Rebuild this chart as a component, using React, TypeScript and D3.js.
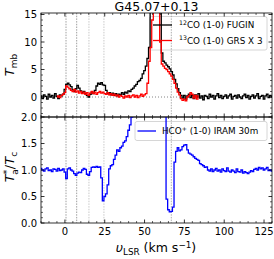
import React from "react";
import * as d3 from "d3";

const V0 = -15;
// 12CO (1-0) FUGIN, v = -15 .. 130 km/s, 1 km/s steps
const co12: number[] = [
  0.2, -0.3, 0.4, 0.1, -0.4, 0.5, 0.0, 0.3, -0.2, 0.6, 0.1, -0.3, 0.4, 0.2, 0.5,
  1.4, 2.3, 2.5, 2.2, 1.9, 1.3, 1.0, 1.5, 2.1, 1.6,
  1.1, 0.8, 1.0, 0.6, 0.3, 0.0, 0.5, 0.9, 0.6, 1.2,
  2.0, 2.5, 2.3, 2.6, 2.2, 2.1, 1.2, 0.6, 0.8, 0.4,
  0.7, 0.3, 0.6, 0.2, 0.5, 0.4, 0.8, 0.5, 0.9, 0.7,
  1.1, 1.0, 1.4, 1.6, 2.0, 2.3, 2.8, 3.0, 3.4, 4.2,
  4.8, 5.6, 7.0, 9.0, 16, 20, 22, 24, 22, 20,
  17, 8.0, 6.5, 6.2, 5.8, 5.5, 5.1, 4.6, 4.0, 3.2,
  2.4, 1.5, 0.8, 0.3,
  -0.2, 0.3, -0.4, 0.2, 0.5, -0.1, 0.3, -0.3, 0.4, 0.0, 0.6, -0.2, 0.2, -0.5, 0.3, 0.1,
  -0.3, 0.5, 0.0, 0.3, -0.4, 0.2, 0.6, -0.1, 0.3, -0.3, 0.1, 0.4, -0.2, 0.2, 0.5, -0.4,
  0.1, 0.3, -0.2, 0.4, 0.0, -0.3, 0.2, 0.5, -0.1, 0.3, -0.4, 0.1, 0.4, -0.2, 0.2, 0.6,
  -0.3, 0.1, 0.3, -0.4, 0.2, 0.5, -0.1, 0.3, 0.0,
];
// 13CO (1-0) GRS x 3, v = -5 .. 84 km/s
const CO13_V0 = -5;
const co13: number[] = [
  0.0, 0.2, -0.1, 0.3, 0.5,
  0.8, 2.0, 1.8, 1.5, 1.2, 1.0, 1.4, 0.9, 1.1, 0.7,
  1.0, 0.6, 0.9, 0.5, 0.8, 0.3, 0.7, 1.0, 0.6, 0.9,
  0.5, 0.8, 1.0, 0.7, 0.9, 0.6, 0.5, 0.8, 0.4, 0.6,
  0.3, 0.5, 0.2, 0.4, 0.0, 0.3, 0.1, -0.2, 0.2, 0.0,
  0.3, -0.1, 0.2, 0.4, 0.0, 0.3, -0.1, 0.2, 0.5, 0.1,
  0.4, 0.6, 2.5, 6.5, 9.0, 14, 20, 25, 22, 18,
  10, 6.0, 5.6, 5.2, 5.0, 4.6, 4.2, 3.8, 3.2, 2.5,
  1.6, 0.9, 0.4, -0.3, -0.6, -0.4, -0.7, 0.0, 0.3, 0.8,
  0.5, -0.2, 0.3, -0.4, 0.2,
];
// HCO+ (1-0) IRAM 30m, Ta*/Tc, v = -15 .. 130 km/s
const hco: number[] = [
  1.03, 1.0, 0.98, 1.02, 1.04, 0.99, 1.0, 0.97, 1.02, 1.01, 0.98, 1.03, 0.99, 1.0, 1.02,
  0.96, 0.84, 1.02, 1.04, 1.0, 0.98, 0.93, 0.9, 0.94, 0.96,
  0.95, 1.0, 1.03, 1.01, 0.92, 0.9, 0.97, 1.05, 1.06, 1.05,
  1.07, 1.05, 1.06, 0.85, 0.42, 0.5, 0.55, 0.72, 1.02, 1.08,
  1.1, 1.2, 1.28, 1.38, 1.35, 1.42, 1.45, 1.52, 1.55, 1.63,
  1.75, 1.85, 2.0, 2.3, 2.4, 2.8, 3.2, 3.5, 3.8, 4.0,
  4.2, 4.3, 4.4, 4.5, 4.4, 4.3, 4.1, 3.9, 3.6, 3.3,
  3.0, 2.7, 2.4, 2.2, 0.45, 0.25, 0.21, 0.22, 0.3, 1.15,
  1.35, 1.42, 1.36, 1.38, 1.44, 1.47, 1.48, 1.38, 1.32, 1.3,
  1.28, 1.25, 1.22, 1.2, 1.18, 1.12, 1.1, 1.08, 1.05, 1.06,
  1.0, 0.98, 1.02, 0.97, 1.0, 1.03, 0.98, 1.0, 0.96, 1.02,
  0.99, 0.97, 1.04, 0.98, 0.96, 1.0, 0.98, 0.95, 1.02, 0.97,
  0.96, 1.0, 0.94, 0.97, 0.95, 0.93, 0.96, 0.99, 0.97, 1.01,
  1.03, 1.0, 1.05, 1.02, 1.04, 1.0, 1.02, 1.05, 0.99, 1.0, 0.98,
];
const markVels = [0.7, 7.4, 15.1, 24.5, 66.8];
const markColors = ["#888", "#888", "#bbb", "#bbb", "#999"];
const xMajor = [0, 25, 50, 75, 100, 125];
const topMajor = [0, 5, 10, 15];
const botMajor = [0, 0.5, 1.0, 1.5, 2.0];

const FONT = "DejaVu Sans, sans-serif";
const L = 41, R = 272;
const T0 = 13, MID = 117, B1 = 223;

export default function App() {
  const x = d3.scaleLinear().domain([-15, 130]).range([L, R]);
  const yT = d3.scaleLinear().domain([0, 15]).range([97, 14.5]);
  const yB = d3.scaleLinear().domain([0, 2]).range([B1, MID]);

  const pts = (arr: number[], v0: number) => arr.map((v, i) => [v0 + i, v] as [number, number]);
  const lineT = d3.line<[number, number]>().x(d => x(d[0])).y(d => yT(d[1])).curve(d3.curveStep);
  const lineB = d3.line<[number, number]>().x(d => x(d[0])).y(d => yB(d[1])).curve(d3.curveStep);

  const xMinor = d3.range(-15, 131, 5).filter(v => !xMajor.includes(v));
  const topMinor = d3.range(-3, 16, 1).filter(v => !topMajor.includes(v));
  const botMinor = d3.range(0, 2.01, 0.1).map(v => +v.toFixed(1)).filter(v => !botMajor.includes(v));

  const axisTicks = (y0: number, y1: number, ys: (v: number) => number, yMaj: number[], yMin: number[], key: string) => {
    const els: JSX.Element[] = [];
    const inRange = (py: number) => py >= y0 - 0.1 && py <= y1 + 0.1;
    xMajor.forEach(v => {
      els.push(<line key={key + "xb" + v} x1={x(v)} x2={x(v)} y1={y1} y2={y1 - 3.5} stroke="#000" strokeWidth={0.8} />);
      els.push(<line key={key + "xt" + v} x1={x(v)} x2={x(v)} y1={y0} y2={y0 + 3.5} stroke="#000" strokeWidth={0.8} />);
    });
    xMinor.forEach(v => {
      els.push(<line key={key + "xbm" + v} x1={x(v)} x2={x(v)} y1={y1} y2={y1 - 2} stroke="#000" strokeWidth={0.6} />);
      els.push(<line key={key + "xtm" + v} x1={x(v)} x2={x(v)} y1={y0} y2={y0 + 2} stroke="#000" strokeWidth={0.6} />);
    });
    yMaj.forEach(v => {
      const py = ys(v);
      if (!inRange(py)) return;
      els.push(<line key={key + "yl" + v} x1={L} x2={L + 3.5} y1={py} y2={py} stroke="#000" strokeWidth={0.8} />);
      els.push(<line key={key + "yr" + v} x1={R} x2={R - 3.5} y1={py} y2={py} stroke="#000" strokeWidth={0.8} />);
    });
    yMin.forEach(v => {
      const py = ys(v);
      if (!inRange(py)) return;
      els.push(<line key={key + "ylm" + v} x1={L} x2={L + 2} y1={py} y2={py} stroke="#000" strokeWidth={0.6} />);
      els.push(<line key={key + "yrm" + v} x1={R} x2={R - 2} y1={py} y2={py} stroke="#000" strokeWidth={0.6} />);
    });
    return els;
  };

  return (
    <svg width={274} height={259} style={{ position: "absolute", left: 0, top: 0, background: "#fff" }} fontFamily={FONT}>
      <defs>
        <clipPath id="clipT"><rect x={L} y={T0} width={R - L} height={MID - T0} /></clipPath>
        <clipPath id="clipB"><rect x={L} y={MID} width={R - L} height={B1 - MID} /></clipPath>
      </defs>
      {/* title */}
      <text x={(L + R) / 2} y={11} fontSize={12.5} textAnchor="middle">G45.07+0.13</text>

      {/* legend frames (behind the data) */}
      <rect x={149.5} y={16.5} width={117.5} height={33.5} rx={2} fill="#fff" fillOpacity={0.8} stroke="#ccc" strokeWidth={0.8} />
      <rect x={135} y={121.5} width={132} height={19} rx={2} fill="#fff" fillOpacity={0.8} stroke="#ccc" strokeWidth={0.8} />

      {/* top panel */}
      <g clipPath="url(#clipT)">
        {markVels.map((v, i) => (
          <line key={"mt" + i} x1={x(v)} x2={x(v)} y1={T0} y2={MID} stroke={markColors[i]} strokeWidth={0.8} strokeDasharray="1.5,1.2" />
        ))}
        <line x1={L} x2={R} y1={yT(0)} y2={yT(0)} stroke="#777" strokeWidth={0.9} strokeDasharray="1,2" />
        <path d={lineT(pts(co12, V0)) || ""} fill="none" stroke="#000" strokeWidth={1.3} />
        <path d={lineT(pts(co13, CO13_V0)) || ""} fill="none" stroke="#f00" strokeWidth={1.3} />
      </g>
      {axisTicks(T0, MID, yT, topMajor, topMinor, "t")}
      <rect x={L} y={T0} width={R - L} height={MID - T0} fill="none" stroke="#000" strokeWidth={0.8} />
      {topMajor.map(v => (
        <text key={"tyl" + v} x={37} y={yT(v)} fontSize={10} textAnchor="end" dominantBaseline="central">{v}</text>
      ))}

      {/* top legend entries */}
      <line x1={153} x2={172} y1={25} y2={25} stroke="#000" strokeWidth={1.3} />
      <line x1={153} x2={172} y1={40.5} y2={40.5} stroke="#f00" strokeWidth={1.3} />
      <text x={179} y={28.3} fontSize={8.8}>
        <tspan fontSize={6.2} dy={-3.5}>12</tspan>
        <tspan dy={3.5}>CO (1-0) FUGIN</tspan>
      </text>
      <text x={179} y={43.8} fontSize={8.8}>
        <tspan fontSize={6.2} dy={-3.5}>13</tspan>
        <tspan dy={3.5}>CO (1-0) GRS X 3</tspan>
      </text>

      {/* bottom panel */}
      <g clipPath="url(#clipB)">
        {markVels.map((v, i) => (
          <line key={"mb" + i} x1={x(v)} x2={x(v)} y1={MID} y2={B1} stroke={markColors[i]} strokeWidth={0.8} strokeDasharray="1.5,1.2" />
        ))}
        <path d={lineB(pts(hco, V0)) || ""} fill="none" stroke="#00f" strokeWidth={1.3} />
      </g>
      {axisTicks(MID, B1, yB, botMajor, botMinor, "b")}
      <rect x={L} y={MID} width={R - L} height={B1 - MID} fill="none" stroke="#000" strokeWidth={0.8} />
      {botMajor.map(v => (
        <text key={"byl" + v} x={37} y={yB(v)} fontSize={10} textAnchor="end" dominantBaseline="central">{v.toFixed(1)}</text>
      ))}
      {xMajor.map(v => (
        <text key={"xl" + v} x={x(v)} y={235} fontSize={10} textAnchor="middle">{v}</text>
      ))}

      {/* bottom legend entry */}
      <line x1={137.5} x2={156} y1={131} y2={131} stroke="#00f" strokeWidth={1.3} />
      <text x={162} y={134.3} fontSize={8.8}>
        <tspan>HCO</tspan>
        <tspan fontSize={6.2} dy={-3.5}>+</tspan>
        <tspan dy={3.5}>{"  (1-0) IRAM 30m"}</tspan>
      </text>

      {/* axis labels */}
      <text x={156} y={252} fontSize={12.5} textAnchor="middle">
        <tspan fontStyle="italic">υ</tspan>
        <tspan fontSize={8.8} dy={2.5}>LSR</tspan>
        <tspan dy={-2.5}>{" (km s"}</tspan>
        <tspan fontSize={8.8} dy={-4.5}>−1</tspan>
        <tspan dy={4.5}>)</tspan>
      </text>
      <text transform="translate(14,65) rotate(-90)" fontSize={13} textAnchor="middle">
        <tspan fontStyle="italic">T</tspan>
        <tspan fontSize={9} dy={2.5}>mb</tspan>
      </text>
      <text transform="translate(14,167) rotate(-90)" fontSize={13} textAnchor="middle">
        <tspan fontStyle="italic">T</tspan>
        <tspan fontSize={9} dy={-4.5}>*</tspan>
        <tspan fontSize={9} dx={-5} dy={8}>a</tspan>
        <tspan dy={-3.5}>/</tspan>
        <tspan fontStyle="italic">T</tspan>
        <tspan fontSize={9} dy={2.5}>c</tspan>
      </text>
    </svg>
  );
}
